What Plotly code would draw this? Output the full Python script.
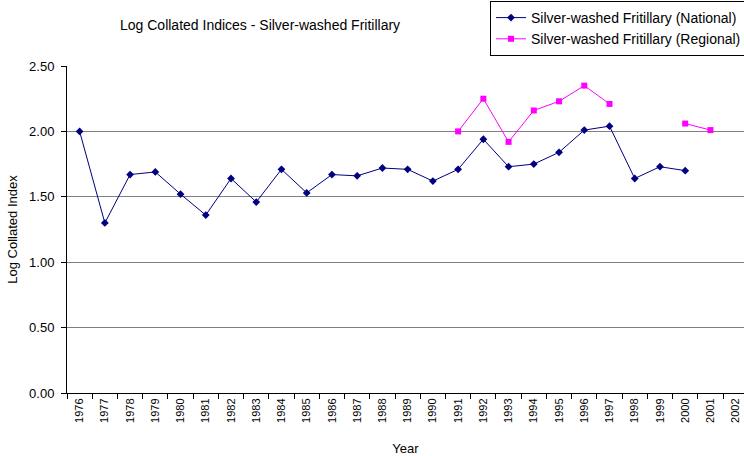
import plotly.graph_objects as go

years = [str(y) for y in range(1976, 2003)]
national = [2.00, 1.30, 1.67, 1.69, 1.52, 1.36, 1.64, 1.46, 1.71, 1.53,
            1.67, 1.66, 1.72, 1.71, 1.62, 1.71, 1.94, 1.73, 1.75, 1.84,
            2.01, 2.04, 1.64, 1.73, 1.70, None, None]
regional = [None] * 15 + [2.00, 2.25, 1.92, 2.16, 2.23, 2.35, 2.21, None, None, 2.06, 2.01, None]

FONT = "Liberation Sans, Arial, sans-serif"
L, T, B = 67, 66, 63
PW, PH = 744 - L, 456 - T - B

def px_x(x):
    return (x - L) / PW

def px_y(y):
    return (456 - B - y) / PH

fig = go.Figure()
fig.add_trace(go.Scatter(
    x=years, y=national, name="Silver-washed Fritillary (National)",
    mode="lines+markers", connectgaps=False,
    line=dict(color="#000080", width=1),
    marker=dict(symbol="diamond", size=6, color="#000080"),
))
fig.add_trace(go.Scatter(
    x=years, y=regional, name="Silver-washed Fritillary (Regional)",
    mode="lines+markers", connectgaps=False,
    line=dict(color="#FF00FF", width=1),
    marker=dict(symbol="square", size=6, color="#FF00FF"),
))

fig.update_layout(
    width=744, height=456,
    margin=dict(l=L, r=0, t=T, b=B, autoexpand=False),
    paper_bgcolor="white", plot_bgcolor="white",
    font=dict(family=FONT, size=12, color="black"),
    showlegend=True,
    legend=dict(
        x=px_x(490), y=px_y(1), xanchor="left", yanchor="top",
        bordercolor="black", borderwidth=1, bgcolor="white",
        font=dict(family=FONT, size=14, color="black"),
        itemwidth=30, tracegroupgap=0,
    ),
    annotations=[
        dict(text="Log Collated Indices - Silver-washed Fritillary",
             x=px_x(260), y=px_y(25), xref="paper", yref="paper",
             xanchor="center", yanchor="middle", showarrow=False,
             font=dict(family=FONT, size=14)),
    ],
)

fig.update_xaxes(
    type="category", range=[-0.5, 26.33], automargin=False,
    showline=True, linecolor="black", linewidth=1,
    ticks="outside", tickson="boundaries", ticklen=5, tickcolor="black",
    tickangle=-90, showgrid=False,
    tickfont=dict(family=FONT, size=11),
    title=dict(text="Year", font=dict(family=FONT, size=13), standoff=22),
)
fig.update_yaxes(
    range=[0, 2.5], dtick=0.5, tickformat=".2f", automargin=False,
    showline=True, linecolor="black", linewidth=1,
    ticks="outside", ticklen=5, tickcolor="black", ticklabelstandoff=4,
    showgrid=True, gridcolor="#808080", gridwidth=1,
    zeroline=False,
    tickfont=dict(family=FONT, size=13),
    title=dict(text="Log Collated Index", font=dict(family=FONT, size=13), standoff=8),
)

fig.write_html(
    "out.html",
    config={"displayModeBar": False},
    post_script="document.body.style.margin='0';document.body.style.overflow='hidden';",
)
